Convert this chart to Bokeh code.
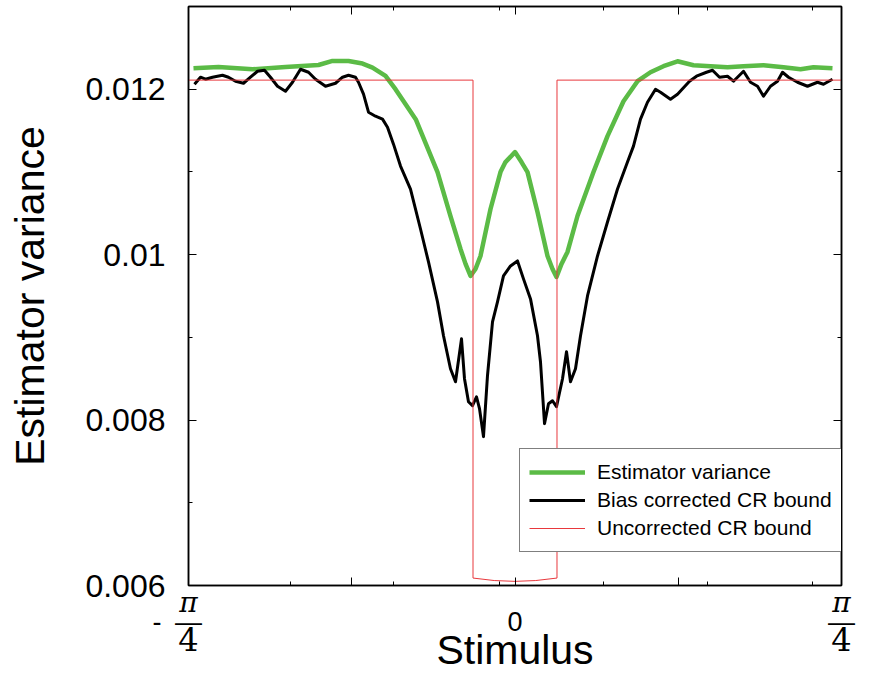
from math import pi
from bokeh.plotting import figure
from bokeh.models import (LinearAxis, FixedTicker, Range1d, Legend, LegendItem,
                          CustomLabelingPolicy)
from bokeh.embed import file_html
from bokeh.resources import INLINE

# ---------------- data ----------------
stim_green = [-0.7734, -0.7132, -0.6314, -0.5521, -0.4727, -0.4390, -0.4005,
              -0.3668, -0.3428, -0.3115, -0.2875, -0.2381, -0.1864, -0.1552,
              -0.1311, -0.1190, -0.1070, -0.0950, -0.0830, -0.0589, -0.0349,
              -0.0229, 0.0, 0.0156, 0.0301, 0.0541, 0.0782, 0.0902, 0.0998,
              0.1119, 0.1263, 0.1503, 0.1888, 0.2225, 0.2610, 0.2947, 0.3259,
              0.3572, 0.3909, 0.4294, 0.4703, 0.5112, 0.5497, 0.5978, 0.6459,
              0.6868, 0.7180, 0.7637]
var_green = [0.012253, 0.012269, 0.012241, 0.012269, 0.012293, 0.012342,
             0.012342, 0.012310, 0.012262, 0.012161, 0.012000, 0.011630,
             0.010998, 0.010467, 0.010069, 0.009888, 0.009743, 0.009827,
             0.009984, 0.010552, 0.010998, 0.011119, 0.011240, 0.011119,
             0.010998, 0.010515, 0.009984, 0.009827, 0.009731, 0.009888,
             0.010033, 0.010467, 0.010998, 0.011433, 0.011855, 0.012097,
             0.012205, 0.012278, 0.012338, 0.012290, 0.012278, 0.012266,
             0.012278, 0.012290, 0.012266, 0.012241, 0.012266, 0.012253]

stim_black = [-0.7710, -0.7565, -0.7445, -0.7277, -0.7036, -0.6892, -0.6723,
              -0.6531, -0.6363, -0.6194, -0.6026, -0.5882, -0.5713, -0.5521,
              -0.5352, -0.5160, -0.4967, -0.4799, -0.4558, -0.4318, -0.4149,
              -0.4005, -0.3837, -0.3765, -0.3644, -0.3524, -0.3356, -0.3187,
              -0.3067, -0.2923, -0.2754, -0.2514, -0.2273, -0.2081, -0.1864,
              -0.1720, -0.1552, -0.1431, -0.1287, -0.1215, -0.1119, -0.1022,
              -0.0926, -0.0854, -0.0758, -0.0662, -0.0541, -0.0421, -0.0277,
              -0.0108, 0.0060, 0.0204, 0.0373, 0.0541, 0.0613, 0.0710, 0.0806,
              0.0902, 0.0998, 0.1143, 0.1239, 0.1335, 0.1455, 0.1576, 0.1744,
              0.1985, 0.2225, 0.2466, 0.2706, 0.2850, 0.3019, 0.3187, 0.3380,
              0.3500, 0.3740, 0.3909, 0.4198, 0.4366, 0.4607, 0.4751, 0.4919,
              0.5112, 0.5256, 0.5497, 0.5665, 0.5834, 0.5978, 0.6146, 0.6315,
              0.6435, 0.6579, 0.6796, 0.7036, 0.7277, 0.7421, 0.7637]
bound_black = [0.012060, 0.012145, 0.012121, 0.012145, 0.012169, 0.012145,
               0.012097, 0.012072, 0.012145, 0.012217, 0.012229, 0.012145,
               0.012036, 0.011976, 0.012084, 0.012241, 0.012205, 0.012121,
               0.012036, 0.012072, 0.012145, 0.012169, 0.012145, 0.012084,
               0.011940, 0.011722, 0.011674, 0.011638, 0.011541, 0.011336,
               0.011071, 0.010793, 0.010310, 0.009912, 0.009429, 0.009019,
               0.008620, 0.008463, 0.008982, 0.008500, 0.008222, 0.008174,
               0.008282, 0.008138, 0.007800, 0.008536, 0.009188, 0.009429,
               0.009743, 0.009863, 0.009924, 0.009707, 0.009465, 0.009019,
               0.008705, 0.007957, 0.008198, 0.008234, 0.008162, 0.008500,
               0.008826, 0.008463, 0.008620, 0.009019, 0.009501, 0.009984,
               0.010395, 0.010793, 0.011119, 0.011312, 0.011638, 0.011843,
               0.012000, 0.011964, 0.011879, 0.011940, 0.012097, 0.012157,
               0.012205, 0.012229, 0.012145, 0.012157, 0.012097, 0.012217,
               0.012084, 0.012036, 0.011915, 0.012036, 0.012097, 0.012205,
               0.012145, 0.012084, 0.012036, 0.012084, 0.012060, 0.012121]

stim_red = [-pi / 4, -0.101, -0.101, -0.05, 0.0, 0.05, 0.101, 0.101, pi / 4]
bound_red = [0.01211, 0.01211, 0.00609, 0.00606, 0.00605, 0.00606, 0.00609,
             0.01211, 0.01211]

series_names = ["Estimator variance", "Bias corrected CR bound",
                "Uncorrected CR bound"]

X_MAJOR = [-pi / 4, -pi / 8, 0.0, pi / 8, pi / 4]
X_MAJOR_LABELS = ["π", "", "", "", "π"]
X_MINOR = [-0.540, -0.292, -0.037, 0.213, 0.463, 0.716]
# stacked tick labels: bar row (with "0") and denominator row
X_BAR_TICKS = [-pi / 4, 0.0, pi / 4]
X_BAR_LABELS = ["-\u2002—\u2002\u2004", "0", "—"]
X_DEN_TICKS = [-pi / 4, pi / 4]
X_DEN_LABELS = ["4", "4"]
Y_MAJOR = [0.006, 0.008, 0.01, 0.012]
Y_LABELS = ["0.006", "0.008", "0.01", "0.012"]
Y_MINOR = [0.007, 0.009, 0.011]
X_START, X_END = -pi / 4, pi / 4
Y_START, Y_END = 0.006, 0.013

SANS = "Liberation Sans"
SERIF = "DejaVu Serif"

p = figure(width=871, height=675, x_range=Range1d(X_START, X_END),
           y_range=Range1d(Y_START, Y_END), output_backend="svg",
           toolbar_location=None, min_border_left=188, min_border_right=30,
           min_border_top=6, min_border_bottom=88,
           y_axis_label="Estimator variance")
p.grid.visible = False
p.outline_line_color = "black"
p.outline_line_width = 1.5
p.background_fill_color = "white"
p.border_fill_color = "white"

xt = FixedTicker(ticks=X_MAJOR, minor_ticks=X_MINOR)
yt = FixedTicker(ticks=Y_MAJOR, minor_ticks=Y_MINOR)

keep_labels = [i for i, s in enumerate(X_MAJOR_LABELS) if s]
keep_policy = CustomLabelingPolicy(args=dict(keep=keep_labels), code="""
    for (const i of indices) { if (!keep.includes(i)) indices.unset(i) }
    return indices
""")
hide_policy = CustomLabelingPolicy(code="""
    for (const i of indices) { indices.unset(i) }
    return indices
""")


def style(ax):
    ax.axis_line_color = "black"
    ax.axis_line_width = 1.5
    ax.major_tick_in = 8
    ax.major_tick_out = 0
    ax.minor_tick_in = 4
    ax.minor_tick_out = 0
    ax.major_tick_line_color = "black"
    ax.minor_tick_line_color = "black"
    ax.major_tick_line_width = 1
    ax.minor_tick_line_width = 1
    ax.major_label_text_color = "black"
    ax.axis_label_text_color = "black"


def bare(ax):
    ax.axis_line_color = None
    ax.major_tick_line_color = None
    ax.minor_tick_line_color = None
    ax.major_tick_out = 0
    ax.major_tick_in = 0
    ax.minor_tick_out = 0
    ax.minor_tick_in = 0
    ax.major_label_text_color = "black"
    ax.axis_label_text_color = "black"


# frame axis (ticks) + numerator row
xa = p.xaxis[0]
xa.ticker = xt
style(xa)
xa.major_label_overrides = {t: s for t, s in zip(X_MAJOR, X_MAJOR_LABELS)}
xa.major_label_policy = keep_policy
xa.major_label_text_font = SERIF
xa.major_label_text_font_style = "italic"
xa.major_label_text_font_size = "28px"
xa.major_label_standoff = 0
xa.axis_label = None

# bar row with "0"
xb = LinearAxis(ticker=FixedTicker(ticks=X_BAR_TICKS, minor_ticks=[]))
bare(xb)
xb.major_label_overrides = {t: s for t, s in zip(X_BAR_TICKS, X_BAR_LABELS)}
xb.major_label_text_font = SANS
xb.major_label_text_font_size = "27px"
xb.major_label_standoff = -15
p.add_layout(xb, "below")

# denominator row + axis title
xc = LinearAxis(ticker=FixedTicker(ticks=X_DEN_TICKS, minor_ticks=[]),
                axis_label="Stimulus")
bare(xc)
xc.major_label_overrides = {t: s for t, s in zip(X_DEN_TICKS, X_DEN_LABELS)}
xc.major_label_text_font = SERIF
xc.major_label_text_font_size = "32px"
xc.major_label_standoff = -12
xc.axis_label_text_font = SANS
xc.axis_label_text_font_size = "41px"
xc.axis_label_text_font_style = "normal"
xc.axis_label_standoff = -27
p.add_layout(xc, "below")

ya = p.yaxis[0]
ya.ticker = yt
style(ya)
ya.major_label_overrides = {t: s for t, s in zip(Y_MAJOR, Y_LABELS)}
ya.major_label_text_font = SANS
ya.major_label_text_font_size = "32px"
ya.major_label_standoff = 23
ya.axis_label_text_font = SANS
ya.axis_label_text_font_size = "41px"
ya.axis_label_text_font_style = "normal"
ya.axis_label_standoff = 29

top = LinearAxis(ticker=xt)
right = LinearAxis(ticker=yt)
for ax in (top, right):
    style(ax)
    ax.major_label_text_font_size = "0px"
    ax.major_label_standoff = 0
    ax.major_label_policy = hide_policy
    ax.axis_label = None
p.add_layout(top, "above")
p.add_layout(right, "right")

g = p.line(stim_green, var_green, line_color="#5bbb46", line_width=4.5,
           line_join="round")
b = p.line(stim_black, bound_black, line_color="black", line_width=3,
           line_join="round")
r = p.line(stim_red, bound_red, line_color="#e8383d", line_width=1)

legend = Legend(items=[LegendItem(label=series_names[0], renderers=[g]),
                       LegendItem(label=series_names[1], renderers=[b]),
                       LegendItem(label=series_names[2], renderers=[r])],
                location=(331, 33), label_text_font=SANS,
                label_text_font_size="21px", label_text_color="black",
                glyph_width=56, glyph_height=28, label_height=28,
                label_width=240, label_standoff=12, spacing=0, padding=9,
                margin=0, border_line_color="black", border_line_width=1.5,
                background_fill_color="white", background_fill_alpha=1)
p.add_layout(legend)

open("out.html", "w").write(file_html(p, INLINE))
